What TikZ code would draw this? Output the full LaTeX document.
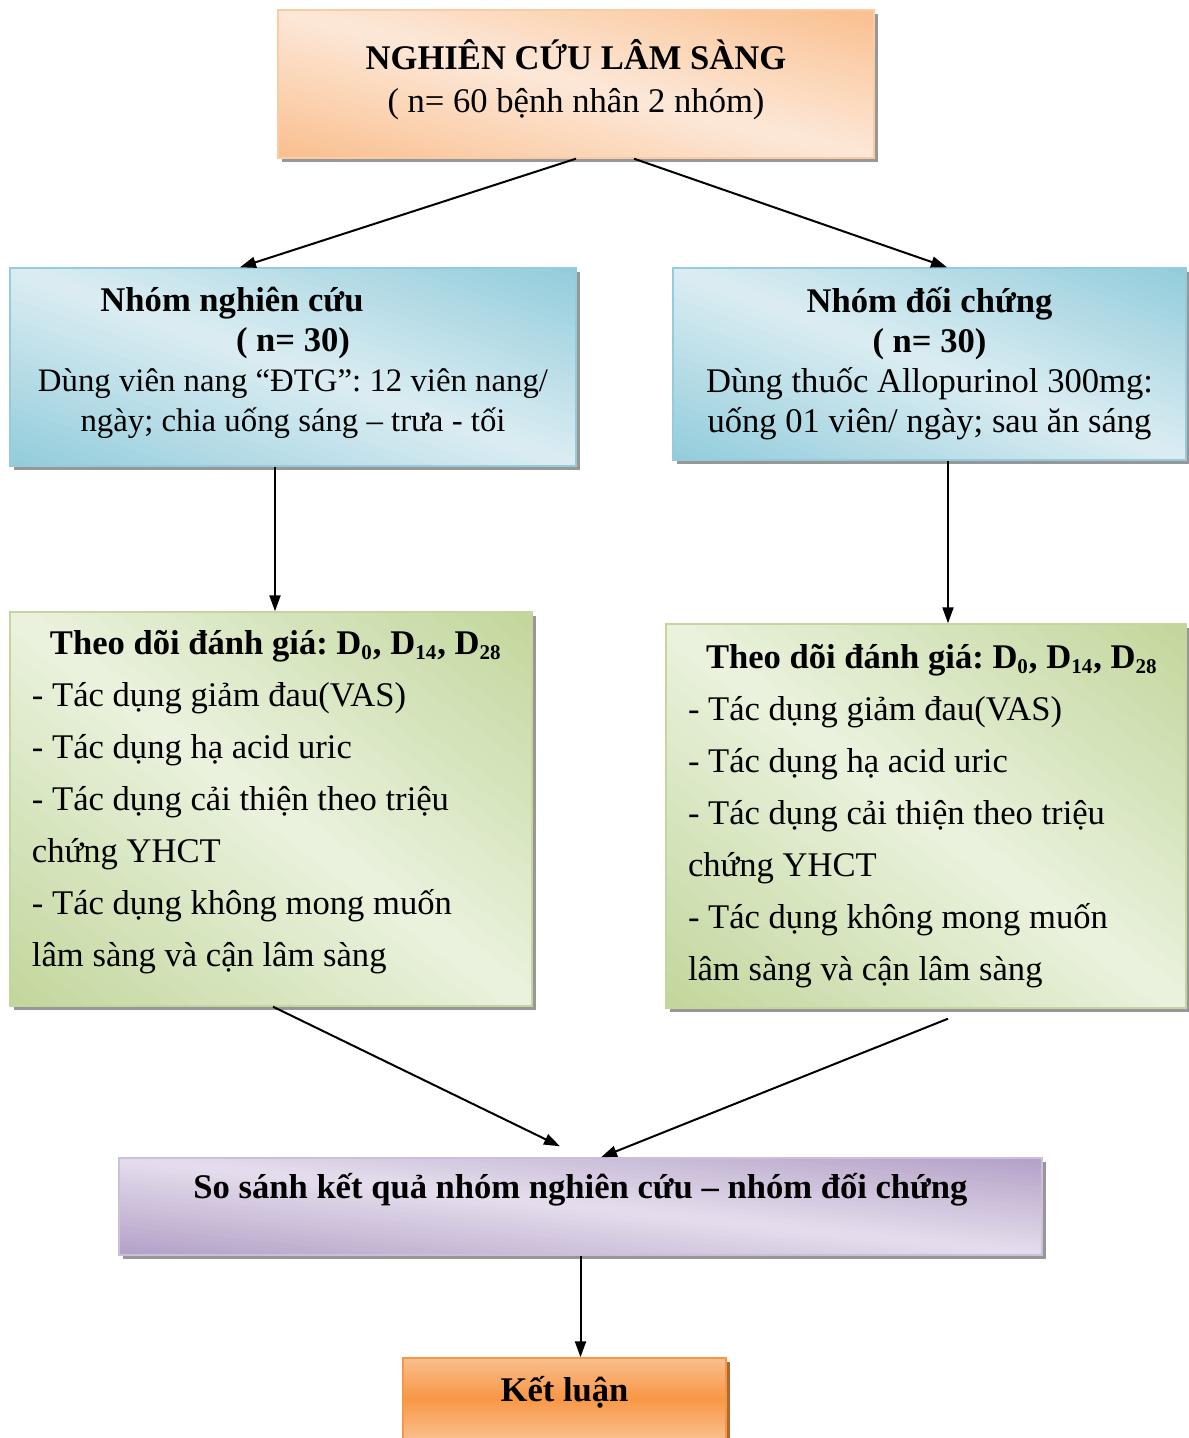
\documentclass[tikz,border=0pt]{standalone}
\usepackage{fontspec}
\setmainfont{Liberation Serif}
\usetikzlibrary{arrows.meta,shadows}
\definecolor{OrangeDk}{rgb}{0.98,0.75,0.56}
\definecolor{OrangeLt}{rgb}{0.99,0.91,0.85}
\definecolor{OrangeMid}{rgb}{0.97,0.59,0.27}
\definecolor{OrangeLn}{rgb}{0.98,0.80,0.65}
\definecolor{BlueDk}{rgb}{0.57,0.80,0.86}
\definecolor{BlueLt}{rgb}{0.86,0.93,0.95}
\definecolor{BlueLn}{rgb}{0.58,0.80,0.87}
\definecolor{GreenDk}{rgb}{0.76,0.84,0.61}
\definecolor{GreenLt}{rgb}{0.92,0.95,0.87}
\definecolor{GreenLn}{rgb}{0.77,0.84,0.62}
\definecolor{PurpleDk}{rgb}{0.70,0.63,0.78}
\definecolor{PurpleLt}{rgb}{0.90,0.87,0.93}
\definecolor{PurpleLn}{rgb}{0.80,0.75,0.85}
\newcommand\dsub[1]{\textsubscript{\fontsize{10.5}{10}\selectfont #1}}
\tikzset{
  diagfill/.style 2 args={path picture={
    \pgfpointanchor{path picture bounding box}{south west}\pgfgetlastxy{\bx}{\by}
    \pgfpointanchor{path picture bounding box}{north east}\pgfgetlastxy{\ex}{\ey}
    \foreach \i in {0,...,39}{
      \pgfmathsetmacro\mix{100*(1-abs((2*\i+1)/40-1))}
      \pgfmathsetmacro\ua{\i/20}
      \pgfmathsetmacro\ub{(\i+1)/20+0.01}
      \fill[#2!\mix!#1]
        ({(\bx)+(\ua+2)*((\ex)-(\bx))},{(\by)-2*((\ey)-(\by))}) --
        ({(\bx)+(\ub+2)*((\ex)-(\bx))},{(\by)-2*((\ey)-(\by))}) --
        ({(\bx)+(\ub-2)*((\ex)-(\bx))},{(\by)+2*((\ey)-(\by))}) --
        ({(\bx)+(\ua-2)*((\ex)-(\bx))},{(\by)+2*((\ey)-(\by))}) -- cycle;
    }}},
  vertfill/.style 2 args={path picture={
    \pgfpointanchor{path picture bounding box}{south west}\pgfgetlastxy{\bx}{\by}
    \pgfpointanchor{path picture bounding box}{north east}\pgfgetlastxy{\ex}{\ey}
    \foreach \i in {0,...,39}{
      \pgfmathsetmacro\mix{100*(1-abs((2*\i+1)/40-1))}
      \fill[#2!\mix!#1]
        ({\bx},{(\by)+\i/40*((\ey)-(\by))}) rectangle
        ({\ex},{(\by)+(\i+1.3)/40*((\ey)-(\by))});
    }}},
  box/.style={draw,line width=0.7pt,inner sep=0pt,
    drop shadow={shadow xshift=2pt,shadow yshift=-2pt,fill=black!45,opacity=.9}},
  topbox/.style={box,draw=OrangeLn,diagfill={OrangeDk}{OrangeLt},align=center,
    font=\fontsize{17.3}{21.5}\selectfont\frenchspacing},
  groupbox/.style={box,draw=BlueLn,diagfill={BlueDk}{BlueLt},align=center,
    font=\fontsize{17.3}{20}\selectfont\frenchspacing},
  followbox/.style={box,draw=GreenLn,diagfill={GreenDk}{GreenLt},align=flush left,
    font=\fontsize{17.3}{26}\selectfont\frenchspacing},
  comparebox/.style={box,draw=PurpleLn,diagfill={PurpleDk}{PurpleLt},
    font=\fontsize{17.3}{20}\selectfont\bfseries},
  endbox/.style={box,draw=OrangeMid,vertfill={OrangeDk}{OrangeMid},
    drop shadow={shadow xshift=2pt,shadow yshift=-2pt,fill=OrangeMid!70!black,opacity=1},
    font=\fontsize{17.3}{20}\selectfont\bfseries},
  arr/.style={-{Triangle[length=8pt,width=5.5pt]},line width=1pt}
}

\begin{document}
\begin{tikzpicture}[x=0.5pt,y=-0.5pt]
\useasboundingbox (0,0) rectangle (1188,1438);

\node[topbox,minimum width=298pt,minimum height=74pt] (top) at (576,84)
  {\textbf{NGHIÊN CỨU LÂM SÀNG}\\( n= 60 bệnh nhân 2 nhóm)\\[-13pt]\mbox{}};

\node[groupbox,minimum width=283pt,minimum height=99pt] (nc) at (293,367)
  {\textbf{Nhóm nghiên cứu}\hspace*{61pt}\mbox{}\\\textbf{( n= 30)}\\
   \fontsize{16.4}{20}\selectfont Dùng viên nang “ĐTG”: 12 viên nang/\\
   \fontsize{16.4}{20}\selectfont ngày; chia uống sáng – trưa - tối\\[-12pt]\mbox{}};
\node[groupbox,minimum width=256.5pt,minimum height=96pt] (nd) at (929.5,364)
  {\textbf{Nhóm đối chứng}\\\textbf{( n= 30)}\\
   Dùng thuốc Allopurinol 300mg:\\uống 01 viên/ ngày; sau ăn sáng};

\node[followbox,minimum width=261pt,minimum height=197pt,text width=239pt] (gl) at (271,809)
  {\hspace*{9pt}\textbf{Theo dõi đánh giá: D\dsub{0}, D\dsub{14}, D\dsub{28}}\\
   - Tác dụng giảm đau(VAS)\\- Tác dụng hạ acid uric\\
   - Tác dụng cải thiện theo triệu\\chứng YHCT\\
   - Tác dụng không mong muốn\\lâm sàng và cận lâm sàng\\[-15pt]\mbox{}};
\node[followbox,minimum width=260pt,minimum height=192pt,text width=238pt] (gr) at (926,816)
  {\hspace*{9pt}\textbf{Theo dõi đánh giá: D\dsub{0}, D\dsub{14}, D\dsub{28}}\\
   - Tác dụng giảm đau(VAS)\\- Tác dụng hạ acid uric\\
   - Tác dụng cải thiện theo triệu\\chứng YHCT\\
   - Tác dụng không mong muốn\\lâm sàng và cận lâm sàng};

\node[comparebox,minimum width=461.5pt,minimum height=48.5pt,text height=12pt,text depth=20pt] (pp) at (580.5,1206.5)
  {So sánh kết quả nhóm nghiên cứu – nhóm đối chứng};

\node[endbox,minimum width=161.5pt,minimum height=41pt,text height=12pt,text depth=10pt] (kl) at (564.5,1399)
  {Kết luận};

\draw[arr] (top.south) -- ([xshift=-26.5pt]nc.north);
\draw[arr] ([xshift=29pt]top.south) -- ([xshift=8.75pt]nd.north);
\draw[arr] ([xshift=-9pt]nc.south) -- ([xshift=2pt]gl.north);
\draw[arr] ([xshift=9.25pt]nd.south) -- ([xshift=11pt]gr.north);
\draw[arr] ([xshift=1pt]gl.south) -- ([xshift=-10.25pt,yshift=5.5pt]pp.north);
\draw[arr] ([xshift=11pt,yshift=-5pt]gr.south) -- ([xshift=10.25pt]pp.north);
\draw[arr] (pp.south) -- ([xshift=8pt]kl.north);

\end{tikzpicture}
\end{document}
